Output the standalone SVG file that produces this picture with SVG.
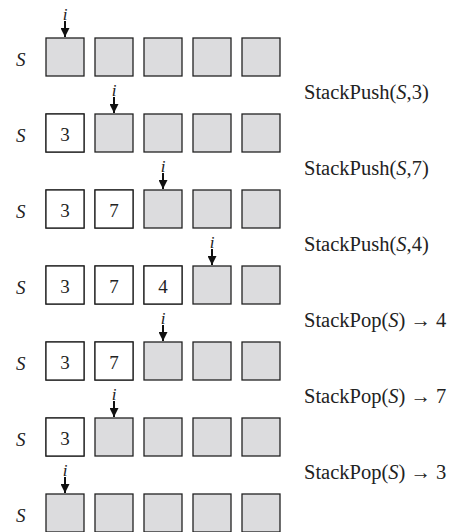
<svg xmlns="http://www.w3.org/2000/svg" width="454" height="532" viewBox="0 0 454 532">
  <style>
    .cell { fill: #dcdcde; stroke: #222; stroke-width: 1.3; }
    .cell.full { fill: #ffffff; }
    .ptr { stroke: #111; stroke-width: 2; fill: none; }
  </style>
  <defs>
    <marker id="head" viewBox="0 0 10 10" refX="10" refY="5" markerWidth="10" markerHeight="9" markerUnits="userSpaceOnUse" orient="auto">
      <path d="M0,0 L10,5 L0,10 Z" fill="#111"/>
    </marker>
    <g id="row">
      <rect class="cell" x="46" y="0" width="38" height="38"/>
      <rect class="cell" x="95" y="0" width="38" height="38"/>
      <rect class="cell" x="144" y="0" width="38" height="38"/>
      <rect class="cell" x="193" y="0" width="38" height="38"/>
      <rect class="cell" x="242" y="0" width="38" height="38"/>
    </g>
  </defs>

  <!-- stack states, one row per step -->
  <g font-family="'Liberation Serif', 'DejaVu Serif', serif" fill="#222">
  <g id="state1" transform="translate(0,38)">
    <use href="#row"/>
    <text font-style="italic" font-size="19" x="16" y="27.5">S</text>
  </g>
  <g id="state2" transform="translate(0,114)" font-size="19">
    <use href="#row"/>
    <rect class="cell full" x="46" y="0" width="38" height="38"/>
    <text text-anchor="middle" x="65" y="26.5">3</text>
    <text font-style="italic" x="16" y="27.5">S</text>
  </g>
  <g id="state3" transform="translate(0,190)" font-size="19">
    <use href="#row"/>
    <rect class="cell full" x="46" y="0" width="38" height="38"/>
    <rect class="cell full" x="95" y="0" width="38" height="38"/>
    <text text-anchor="middle" x="65" y="26.5">3</text>
    <text text-anchor="middle" x="114" y="26.5">7</text>
    <text font-style="italic" x="16" y="27.5">S</text>
  </g>
  <g id="state4" transform="translate(0,266)" font-size="19">
    <use href="#row"/>
    <rect class="cell full" x="46" y="0" width="38" height="38"/>
    <rect class="cell full" x="95" y="0" width="38" height="38"/>
    <rect class="cell full" x="144" y="0" width="38" height="38"/>
    <text text-anchor="middle" x="65" y="26.5">3</text>
    <text text-anchor="middle" x="114" y="26.5">7</text>
    <text text-anchor="middle" x="163" y="26.5">4</text>
    <text font-style="italic" x="16" y="27.5">S</text>
  </g>
  <g id="state5" transform="translate(0,342)" font-size="19">
    <use href="#row"/>
    <rect class="cell full" x="46" y="0" width="38" height="38"/>
    <rect class="cell full" x="95" y="0" width="38" height="38"/>
    <text text-anchor="middle" x="65" y="26.5">3</text>
    <text text-anchor="middle" x="114" y="26.5">7</text>
    <text font-style="italic" x="16" y="27.5">S</text>
  </g>
  <g id="state6" transform="translate(0,418)" font-size="19">
    <use href="#row"/>
    <rect class="cell full" x="46" y="0" width="38" height="38"/>
    <text text-anchor="middle" x="65" y="26.5">3</text>
    <text font-style="italic" x="16" y="27.5">S</text>
  </g>
  <g id="state7" transform="translate(0,494)" font-size="19">
    <use href="#row"/>
    <text font-style="italic" x="16" y="27.5">S</text>
  </g>

  <!-- index pointers -->
  <g id="pointers" font-style="italic" font-size="17" text-anchor="middle">
    <text x="65" y="20">i</text>
    <line class="ptr" x1="65" y1="21" x2="65" y2="37" marker-end="url(#head)"/>
    <text x="114" y="96">i</text>
    <line class="ptr" x1="114" y1="97" x2="114" y2="113" marker-end="url(#head)"/>
    <text x="163" y="172">i</text>
    <line class="ptr" x1="163" y1="173" x2="163" y2="189" marker-end="url(#head)"/>
    <text x="212" y="248">i</text>
    <line class="ptr" x1="212" y1="249" x2="212" y2="265" marker-end="url(#head)"/>
    <text x="163" y="324">i</text>
    <line class="ptr" x1="163" y1="325" x2="163" y2="341" marker-end="url(#head)"/>
    <text x="114" y="400">i</text>
    <line class="ptr" x1="114" y1="401" x2="114" y2="417" marker-end="url(#head)"/>
    <text x="65" y="476">i</text>
    <line class="ptr" x1="65" y1="477" x2="65" y2="493" marker-end="url(#head)"/>
  </g>

  <!-- operations between states -->
  <g id="operations" font-size="20.5">
    <text x="304" y="99">StackPush(<tspan font-style="italic">S</tspan>,3)</text>
    <text x="304" y="175">StackPush(<tspan font-style="italic">S</tspan>,7)</text>
    <text x="304" y="251">StackPush(<tspan font-style="italic">S</tspan>,4)</text>
    <text x="304" y="327">StackPop(<tspan font-style="italic">S</tspan>) → 4</text>
    <text x="304" y="403">StackPop(<tspan font-style="italic">S</tspan>) → 7</text>
    <text x="304" y="479">StackPop(<tspan font-style="italic">S</tspan>) → 3</text>
  </g>
  </g>
</svg>
